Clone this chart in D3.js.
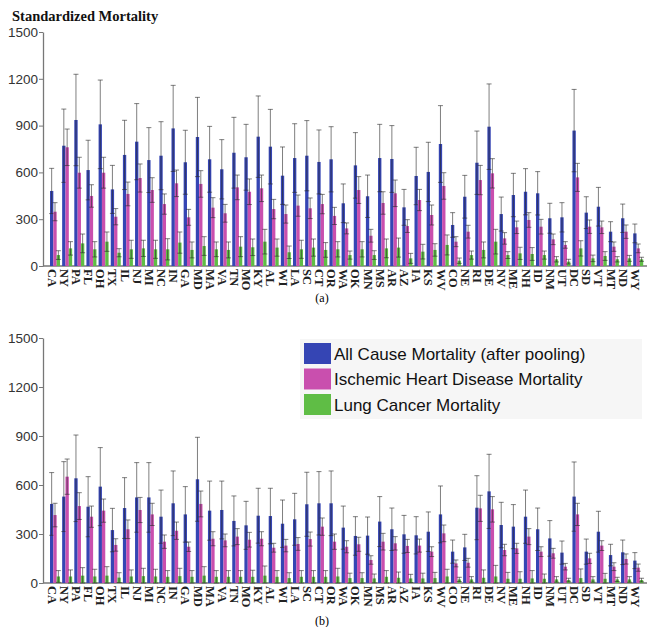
<!DOCTYPE html>
<html>
<head>
<meta charset="utf-8">
<script src="https://cdn.jsdelivr.net/npm/d3@7"></script>
<style>
	body { margin: 0; background: white; }
	svg { display: block; }
</style>
</head>
<body>
<svg width="647" height="627"></svg>
<script>
let states = ['CA','NY','PA','FL','OH','TX','IL','NJ','MI','NC','IN','GA','MD','MA','VA','TN','MO','KY','AL','WI',
	'LA','SC','CT','OR','WA','OK','MN','MS','AR','AZ','IA','KS','WV','CO','NE','RI','DE','NV','ME','NH',
	'ID','NM','UT','DC','SD','VT','MT','ND','WY']

let yTicks = [0, 300, 600, 900, 1200, 1500]

let seriesNames = ['All Cause Mortality (after pooling)', 'Ischemic Heart Disease Mortality', 'Lung Cancer Mortality']
let seriesColors = ['#3545b4', '#c94fae', '#5fbd45']

// panel (a)
let allA = [481,771,936,615,908,491,712,797,679,707,882,665,827,684,620,726,697,829,765,579,
	692,707,667,684,402,645,447,692,686,376,577,603,782,263,444,662,893,333,455,476,
	466,306,312,868,342,380,220,306,209]
let allErrA = [145,235,293,191,284,154,222,244,208,218,276,205,254,211,190,227,211,261,239,184,
	220,225,205,209,124,210,136,216,214,115,184,190,246,79,137,203,274,109,139,148,
	139,96,94,264,102,124,64,91,60]
let ihdA = [348,761,598,449,598,316,462,564,487,397,530,312,526,374,338,504,476,498,365,333,
	387,370,397,321,241,487,194,404,466,256,423,327,513,156,220,551,594,177,248,295,
	252,171,135,568,252,248,124,220,113]
let ihdErrA = [58,117,99,72,99,52,76,90,79,65,85,51,85,64,57,79,82,85,62,58,
	68,66,62,55,35,86,41,72,85,41,68,64,85,32,41,94,94,37,40,47,
	47,34,21,90,43,40,30,43,28]
let lungA = [70,113,145,107,156,85,107,113,107,107,150,103,128,107,103,124,120,156,118,88,
	107,118,103,107,70,107,70,113,118,49,92,103,135,34,70,103,156,70,81,77,
	70,43,28,113,49,64,43,49,43]
let lungErrA = [28,43,60,49,62,26,58,52,58,68,68,51,60,47,51,64,53,79,55,40,
	58,55,47,49,26,49,28,60,61,32,47,40,64,17,26,51,79,22,39,41,
	26,17,15,49,21,28,17,19,13]

// panel (b)
let allB = [484,529,641,467,590,324,459,524,524,406,488,420,635,443,447,380,353,412,410,363,
	390,482,488,488,339,288,290,376,329,298,292,314,420,192,218,461,561,355,345,406,
	329,273,186,529,192,314,171,188,137]
let allErrB = [192,214,265,184,239,133,186,213,213,163,198,170,257,181,177,153,147,168,170,145,
	159,196,194,198,132,118,114,153,130,116,114,121,174,71,80,196,227,139,135,163,
	130,109,71,212,77,125,66,75,49]
let ihdB = [416,651,471,406,443,233,329,447,420,253,320,222,484,271,261,284,265,271,216,229,
	239,269,345,253,222,237,141,253,243,227,229,192,304,120,124,457,451,202,212,284,
	192,182,100,420,151,229,100,147,94]
let ihdErrB = [72,108,82,65,71,38,57,77,68,41,53,29,79,43,39,49,45,43,27,38,
	39,43,53,47,37,43,26,51,41,40,40,30,51,21,27,80,78,35,31,49,
	30,30,20,68,31,30,24,31,22]
let lungB = [40,40,45,40,45,33,40,42,40,38,42,38,45,38,38,38,38,45,38,30,
	38,38,38,40,30,30,28,38,32,28,28,30,40,22,22,32,40,26,26,28,
	26,22,18,30,22,26,22,22,18]
let lungErrB = [36,40,49,44,55,30,40,48,44,38,48,38,55,38,38,38,40,59,38,33,
	38,38,38,50,30,33,27,38,35,25,32,35,44,13,17,48,68,39,43,48,
	29,17,11,56,17,33,13,17,11]

let svg = d3.select('svg')

let x = d3.scaleBand()
	.domain(states)
	.range([47, 47 + states.length * 12.15])
	.padding(0)

let xs = d3.scaleBand()
	.domain([0, 1, 2])
	.range([3, 13])

let drawPanel = function(name, yTop, yBot, vals, errs) {
	let g = svg.append('g').attr('id', name)

	let y = d3.scaleLinear()
		.domain([0, 1500])
		.range([yBot, yTop])

	let yAxis = g.append('g')
		.attr('transform', 'translate(43,0)')
		.call(d3.axisLeft(y).tickValues(yTicks).tickFormat(d3.format('d'))
			.tickSize(4).tickSizeOuter(0).tickPadding(1))
	yAxis.select('.domain').attr('stroke', '#777').attr('stroke-width', 1.3)
	yAxis.selectAll('.tick line').attr('stroke', '#777')
	yAxis.selectAll('.tick text')
		.style('font-family', 'Liberation Sans, Arial, sans-serif')
		.style('font-size', '13.5px')
		.style('fill', '#333')

	g.append('line')
		.attr('x1', 43).attr('x2', 647)
		.attr('y1', yBot).attr('y2', yBot)
		.attr('stroke', '#777').attr('stroke-width', 1.3)

	for (let k = 0; k < 3; k++) {
		let v = vals[k], e = errs[k]
		let sg = g.append('g')
		sg.selectAll('rect')
			.data(states)
			.join('rect')
			.attr('x', (d) => x(d) + xs(k))
			.attr('width', xs.bandwidth())
			.attr('y', (d, i) => y(v[i]))
			.attr('height', (d, i) => yBot - y(v[i]))
			.attr('fill', seriesColors[k])

		let eg = sg.append('g')
			.attr('stroke', '#2a2a2a')
			.attr('stroke-opacity', 0.6)
			.attr('stroke-width', 1)
		states.forEach(function(s, i) {
			let cx = x(s) + xs(k) + xs.bandwidth() / 2
			let lo = Math.max(0, v[i] - e[i])
			eg.append('line')
				.attr('x1', cx).attr('x2', cx)
				.attr('y1', y(lo)).attr('y2', y(v[i] + e[i]))
			eg.append('line')
				.attr('x1', cx - 2.5).attr('x2', cx + 2.5)
				.attr('y1', y(v[i] + e[i])).attr('y2', y(v[i] + e[i]))
			eg.append('line')
				.attr('x1', cx - 2.5).attr('x2', cx + 2.5)
				.attr('y1', y(lo)).attr('y2', y(lo))
		})
	}

	g.append('g')
		.selectAll('text')
		.data(states)
		.join('text')
		.attr('transform', (d) => `translate(${x(d) + x.bandwidth() / 2 - 1}, ${yBot + 3}) rotate(90)`)
		.attr('dy', '0.35em')
		.style('font-family', 'Liberation Serif, Times New Roman, serif')
		.style('font-weight', 'bold')
		.style('font-size', '12.5px')
		.style('fill', '#222')
		.text((d) => d)
}

svg.append('text')
	.attr('x', 12).attr('y', 21)
	.style('font-family', 'Liberation Serif, Times New Roman, serif')
	.style('font-weight', 'bold')
	.style('font-size', '14.5px')
	.style('fill', '#111')
	.text('Standardized Mortality')

drawPanel('panelA', 32, 266, [allA, ihdA, lungA], [allErrA, ihdErrA, lungErrA])
drawPanel('panelB', 338, 583, [allB, ihdB, lungB], [allErrB, ihdErrB, lungErrB])

svg.append('text')
	.attr('x', 322).attr('y', 302)
	.attr('text-anchor', 'middle')
	.style('font-family', 'Liberation Serif, Times New Roman, serif')
	.style('font-size', '12px')
	.text('(a)')
svg.append('text')
	.attr('x', 322).attr('y', 625)
	.attr('text-anchor', 'middle')
	.style('font-family', 'Liberation Serif, Times New Roman, serif')
	.style('font-size', '12px')
	.text('(b)')

// legend
let legend = svg.append('g').attr('id', 'legend')
legend.append('rect')
	.attr('x', 300).attr('y', 339)
	.attr('width', 342).attr('height', 80)
	.attr('fill', '#f6f6f6')
legend.selectAll('rect.key')
	.data(seriesNames)
	.join('rect')
	.attr('class', 'key')
	.attr('x', 304)
	.attr('y', (d, i) => 343 + i * 25.5)
	.attr('width', 27).attr('height', 21)
	.attr('fill', (d, i) => seriesColors[i])
legend.selectAll('text')
	.data(seriesNames)
	.join('text')
	.attr('x', 334)
	.attr('y', (d, i) => 354 + i * 25.5)
	.attr('dy', '0.35em')
	.style('font-family', 'Liberation Sans, Arial, sans-serif')
	.style('font-size', '17px')
	.style('fill', '#111')
	.text((d) => d)
</script>
</body>
</html>
